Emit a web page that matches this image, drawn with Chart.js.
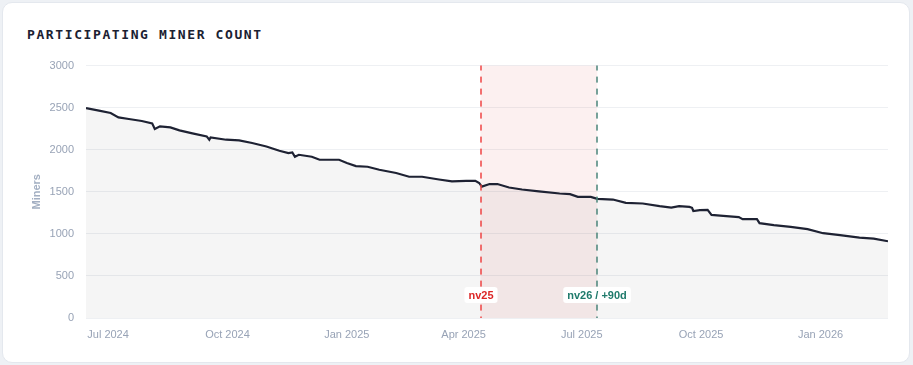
<!DOCTYPE HTML>
<html lang="en">
<head>
  <meta http-equiv="content-type" content="text/html; charset=UTF-8">
  <script src="https://cdn.jsdelivr.net/npm/chart.js@4"></script>
  <style>
    html, body { margin:0; padding:0; background:#eef1f5; }
    .card { position:absolute; left:2px; top:2px; width:906px; height:359px; background:#fff;
            border:1px solid #e4e8ee; border-radius:10px; }
    .title { position:absolute; left:24px; top:24px; font:bold 13px "DejaVu Sans Mono", monospace;
             letter-spacing:1.6px; color:#1b2132; }
    .wrap { position:absolute; left:18px; top:44px; width:875px; height:301px; }
  </style>
</head>
<body>
  <div class="card">
    <div class="title">PARTICIPATING MINER COUNT</div>
    <div class="wrap"><canvas id="chart"></canvas></div>
  </div>

  <script>
    // Data //
    const dates = [
      '2024-06-14', '2024-06-24', '2024-07-03', '2024-07-09', '2024-07-17', '2024-07-27',
      '2024-08-04', '2024-08-06', '2024-08-10', '2024-08-18', '2024-08-25', '2024-09-04',
      '2024-09-15', '2024-09-17', '2024-09-18', '2024-09-30', '2024-10-10', '2024-10-20',
      '2024-10-31', '2024-11-10', '2024-11-17', '2024-11-20', '2024-11-22', '2024-11-25',
      '2024-12-05', '2024-12-11', '2024-12-26', '2025-01-01', '2025-01-08', '2025-01-17',
      '2025-01-26', '2025-02-08', '2025-02-18', '2025-02-28', '2025-03-13', '2025-03-23',
      '2025-04-03', '2025-04-10', '2025-04-13', '2025-04-15', '2025-04-21', '2025-04-27',
      '2025-05-06', '2025-05-16', '2025-05-29', '2025-06-14', '2025-06-22', '2025-06-28',
      '2025-07-08', '2025-07-13', '2025-07-25', '2025-08-04', '2025-08-17', '2025-08-30',
      '2025-09-08', '2025-09-14', '2025-09-22', '2025-09-24', '2025-09-25', '2025-09-30',
      '2025-10-06', '2025-10-09', '2025-10-18', '2025-10-30', '2025-11-02', '2025-11-13',
      '2025-11-15', '2025-11-26', '2025-12-09', '2025-12-22', '2026-01-03', '2026-01-16',
      '2026-01-31', '2026-02-11', '2026-02-22'
    ];
    const miners = [
      2495, 2464, 2437, 2385, 2365, 2342,
      2313, 2246, 2278, 2266, 2230, 2194,
      2158, 2119, 2147, 2119, 2111, 2080,
      2039, 1988, 1961, 1968, 1917, 1940,
      1917, 1881, 1881, 1842, 1806, 1798,
      1762, 1723, 1679, 1679, 1646, 1623,
      1631, 1631, 1605, 1562, 1592, 1592,
      1551, 1527, 1504, 1480, 1472, 1440,
      1440, 1417, 1408, 1369, 1361, 1330,
      1313, 1330, 1321, 1310, 1272, 1282,
      1286, 1226, 1214, 1199, 1175, 1175,
      1127, 1104, 1083, 1056, 1008, 985,
      956, 944, 912
    ];
    const tickDates = ['2024-07-01', '2024-10-01', '2025-01-01', '2025-04-01', '2025-07-01', '2025-10-01', '2026-01-01'];
    const tickLabels = ['Jul 2024', 'Oct 2024', 'Jan 2025', 'Apr 2025', 'Jul 2025', 'Oct 2025', 'Jan 2026'];
    const eventDates = ['2025-04-14', '2025-07-13'];
    const eventLabels = ['nv25', 'nv26 / +90d'];

    const day = s => Date.parse(s) / 86400000;
    const tickDays = tickDates.map(day);
    const eventDays = eventDates.map(day);

    // Upgrade band, dashed markers and their labels //
    const eventsPlugin = {
      id: 'events',
      beforeDatasetsDraw(chart) {
        const { ctx, chartArea: a, scales: { x } } = chart;
        const x0 = x.getPixelForValue(eventDays[0]);
        const x1 = x.getPixelForValue(eventDays[1]);
        ctx.save();
        ctx.fillStyle = 'rgba(220, 60, 60, 0.075)';
        ctx.fillRect(x0, a.top, x1 - x0, a.bottom - a.top);
        ctx.restore();
      },
      afterDatasetsDraw(chart) {
        const { ctx, chartArea: a, scales: { x } } = chart;
        const lineColors = ['#ef4444', '#4b857b'];
        const textColors = ['#dc2626', '#1f7a6b'];
        eventDays.forEach((d, i) => {
          const px = Math.round(x.getPixelForValue(d));
          ctx.save();
          ctx.strokeStyle = lineColors[i];
          ctx.lineWidth = 1.5;
          ctx.setLineDash([6, 6]);
          ctx.lineDashOffset = 1;
          ctx.beginPath();
          ctx.moveTo(px, a.top);
          ctx.lineTo(px, a.bottom);
          ctx.stroke();
          ctx.setLineDash([]);
          ctx.font = 'bold 11px "Liberation Sans", Arial, sans-serif';
          const w = ctx.measureText(eventLabels[i]).width + 8;
          const cy = a.bottom - 23;
          ctx.fillStyle = '#ffffff';
          ctx.beginPath();
          ctx.roundRect(px - w / 2, cy - 8, w, 16, 3);
          ctx.fill();
          ctx.fillStyle = textColors[i];
          ctx.textAlign = 'center';
          ctx.textBaseline = 'middle';
          ctx.fillText(eventLabels[i], px, cy + 0.5);
          ctx.restore();
        });
      }
    };

    const tickFont = { family: '"Liberation Sans", Arial, sans-serif', size: 11 };

    new Chart(document.getElementById('chart'), {
      type: 'line',
      data: {
        datasets: [{
          data: dates.map((d, i) => ({ x: day(d), y: miners[i] })),
          borderColor: '#1e2233',
          borderWidth: 2.2,
          backgroundColor: 'rgba(0, 0, 0, 0.04)',
          fill: 'origin',
          pointRadius: 0,
          tension: 0,
        }],
      },
      options: {
        responsive: true,
        maintainAspectRatio: false,
        animation: false,
        layout: { padding: { top: 7, right: 8, left: 0, bottom: 0 } },
        plugins: { legend: { display: false }, tooltip: { enabled: false } },
        scales: {
          x: {
            type: 'linear',
            min: day(dates[0]),
            max: day(dates[dates.length - 1]),
            afterBuildTicks: s => { s.ticks = tickDays.map(v => ({ value: v })); },
            afterFit: s => { s.height = 30; },
            ticks: {
              autoSkip: false, maxRotation: 0, padding: 2,
              color: '#98a3b6', font: tickFont,
              callback: v => tickLabels[tickDays.indexOf(v)],
            },
            grid: { display: false },
            border: { display: false },
          },
          y: {
            min: 0, max: 3000,
            afterFit: s => { s.width = 65; },
            ticks: { stepSize: 500, padding: 12, color: '#98a3b6', font: tickFont, callback: v => String(v) },
            grid: { color: '#eef0f3', drawTicks: false },
            border: { display: false },
            title: {
              display: true, text: 'Miners', color: '#a3afc2',
              font: { family: '"Liberation Sans", Arial, sans-serif', size: 11, weight: 'bold' },
              padding: { top: 9, bottom: 0 },
            },
          },
        },
      },
      plugins: [eventsPlugin],
    });
  </script>
</body>
</html>
